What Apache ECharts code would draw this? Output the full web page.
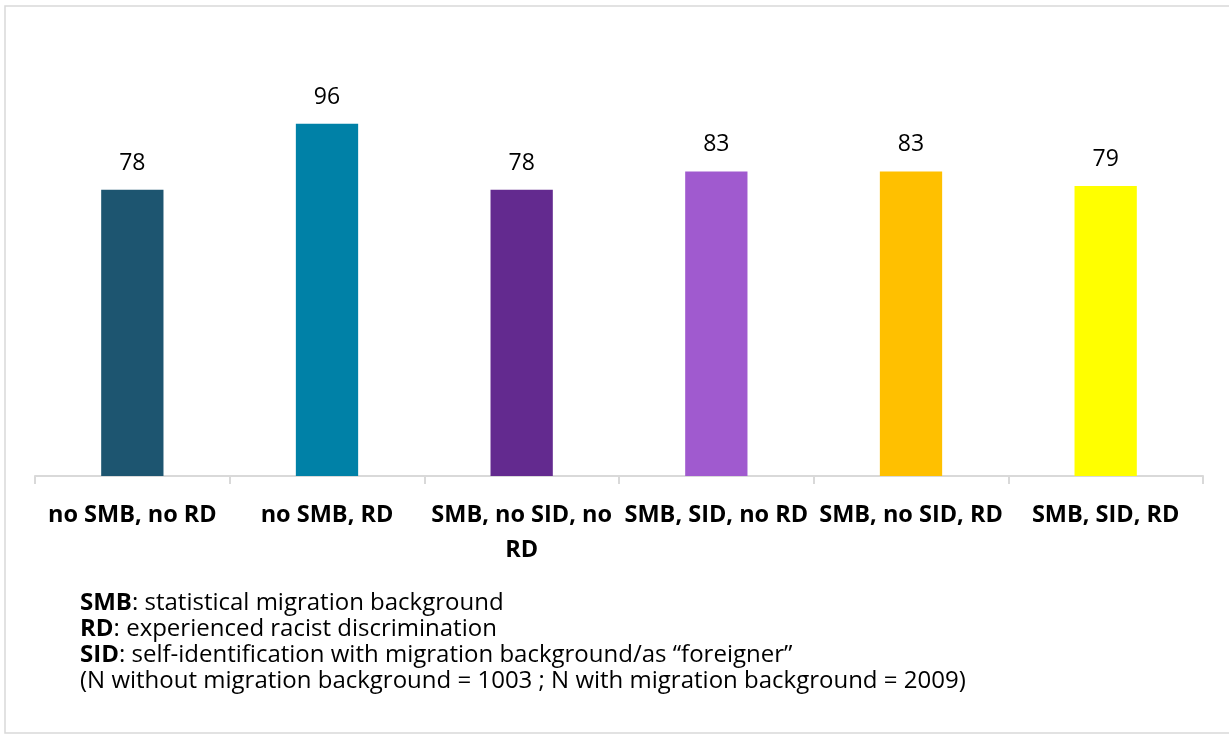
<!DOCTYPE html>
<html>
<head>
<meta charset="utf-8">
<script src="https://cdn.jsdelivr.net/npm/echarts@6/dist/echarts.min.js"></script>
<style>
  html, body { margin: 0; padding: 0; background: #ffffff; }
  #chart { width: 1229px; height: 734px; }
</style>
</head>
<body>
<div id="chart"></div>
<script>
// Group labels along the x axis
const categories = [
  'no SMB, no RD',
  'no SMB, RD',
  'SMB, no SID, no RD',
  'SMB, SID, no RD',
  'SMB, no SID, RD',
  'SMB, SID, RD'
];
// Share per group (%)
const values = [78, 96, 78, 83, 83, 79];
// One fill per group
const barColors = ['#1D5570', '#0081A7', '#632A8F', '#A05ACF', '#FFC000', '#FFFF00'];
// Abbreviation key printed under the chart
const notes = [
  { key: 'SMB', text: ': statistical migration background' },
  { key: 'RD', text: ': experienced racist discrimination' },
  { key: 'SID', text: ': self-identification with migration background/as \u201cforeigner\u201d' },
  { key: '', text: '(N without migration background = 1003 ; N with migration background = 2009)' }
];

const FONT = '"Open Sans", Lato, sans-serif';

const chart = echarts.init(document.getElementById('chart'), null, { renderer: 'canvas' });

const noteGraphics = notes.map((n, i) => ({
  type: 'text',
  left: 80,
  top: 591 + i * 26,
  style: {
    text: (n.key ? '{b|' + n.key + '}' : '') + '{r|' + n.text + '}',
    rich: {
      b: { fontFamily: FONT, fontSize: 24, fontWeight: 'bold', fill: '#000', lineHeight: 26 },
      r: { fontFamily: FONT, fontSize: 24, fill: '#000', lineHeight: 26 }
    }
  }
}));

chart.setOption({
  animation: false,
  backgroundColor: '#ffffff',
  grid: { left: 35, right: 26, top: 109, bottom: 258, containLabel: false },
  xAxis: {
    type: 'category',
    data: categories,
    axisLine: { lineStyle: { color: '#D9D9D9', width: 2 } },
    axisTick: { show: true, alignWithLabel: false, length: 8, lineStyle: { color: '#D9D9D9', width: 2 } },
    axisLabel: {
      interval: 0,
      margin: 22,
      fontFamily: FONT,
      fontSize: 23.5,
      fontWeight: 'bold',
      color: '#000',
      lineHeight: 35,
      formatter: v => v === 'SMB, no SID, no RD' ? 'SMB, no SID, no\nRD' : v
    }
  },
  yAxis: {
    type: 'value',
    min: 0,
    max: 100,
    show: false,
    splitLine: { show: false }
  },
  series: [{
    type: 'bar',
    data: values.map((v, i) => ({ value: v, itemStyle: { color: barColors[i] } })),
    barWidth: '32%',
    label: {
      show: true,
      position: 'top',
      distance: 15,
      fontFamily: FONT,
      fontSize: 23,
      color: '#000'
    }
  }],
  graphic: [
    {
      type: 'polyline',
      silent: true,
      shape: { points: [[1229, 6], [5, 6], [5, 733], [1229, 733]] },
      style: { stroke: '#D9D9D9', lineWidth: 1.5, fill: null }
    }
  ].concat(noteGraphics)
});
</script>
</body>
</html>
